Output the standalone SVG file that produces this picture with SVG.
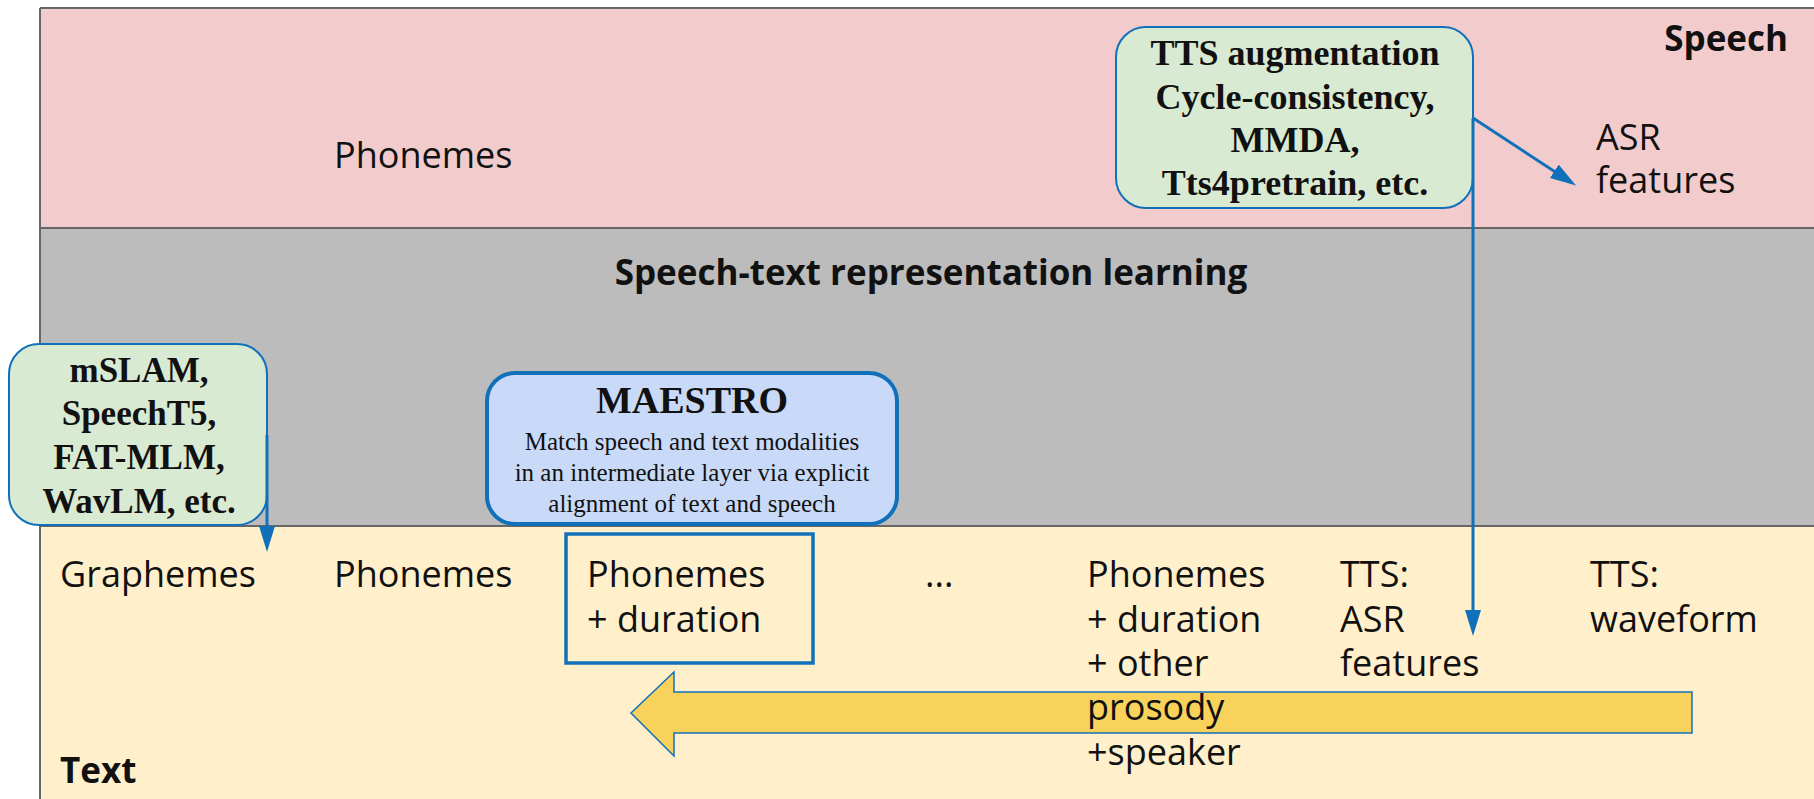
<svg xmlns="http://www.w3.org/2000/svg" width="1814" height="799" viewBox="0 0 1814 799">
  <style>
    .lbl { font-family: "Open Sans", "Liberation Sans", sans-serif; font-size: 36px; fill: #111; }
    .hdr { font-family: "Open Sans", "Liberation Sans", sans-serif; font-size: 35px; font-weight: bold; fill: #111; }
    .node { font-family: "Liberation Serif", "DejaVu Serif", serif; font-weight: bold; fill: #111; text-anchor: middle; }
    .note { font-family: "Liberation Serif", "DejaVu Serif", serif; font-size: 25px; fill: #111; text-anchor: middle; }
    .band-line { stroke: #666; stroke-width: 2; fill: none; }
    .conn { stroke: #1170ba; stroke-width: 3; fill: none; }
  </style>
  <defs>
    <marker id="head" viewBox="0 0 26 16" refX="14" refY="8" markerWidth="26" markerHeight="16" markerUnits="userSpaceOnUse" orient="auto">
      <path d="M0,0 L26,8 L0,16 Z" fill="#1170ba"/>
    </marker>
  </defs>

  <!-- background bands -->
  <g id="bands">
    <rect x="40" y="8" width="1774" height="220" fill="#f2cccc"/>
    <rect x="40" y="228" width="1774" height="298" fill="#bcbcbc"/>
    <rect x="40" y="526" width="1774" height="273" fill="#fff0cb"/>
    <path class="band-line" d="M40,8 H1814 M40,8 V799 M40,228 H1814 M40,526 H1814"/>
  </g>

  <!-- band titles and plain labels -->
  <g id="labels">
    <text class="hdr" x="1788" y="51" text-anchor="end" font-size="36">Speech</text>
    <text class="hdr" x="931" y="285" text-anchor="middle">Speech-text representation learning</text>
    <text class="hdr" x="60" y="783">Text</text>

    <text class="lbl" x="334" y="168">Phonemes</text>
    <text class="lbl" x="1596" y="150">ASR</text>
    <text class="lbl" x="1596" y="193">features</text>

    <text class="lbl" x="60" y="587">Graphemes</text>
    <text class="lbl" x="334" y="587">Phonemes</text>
    <text class="lbl" x="925" y="587">...</text>

    <text class="lbl" x="1087" y="587">Phonemes</text>
    <text class="lbl" x="1087" y="632">+ duration</text>
    <text class="lbl" x="1087" y="676">+ other</text>
    <text class="lbl" x="1087" y="765">+speaker</text>

    <text class="lbl" x="1340" y="587">TTS:</text>
    <text class="lbl" x="1340" y="632">ASR</text>
    <text class="lbl" x="1340" y="676">features</text>

    <text class="lbl" x="1590" y="587">TTS:</text>
    <text class="lbl" x="1590" y="632">waveform</text>
  </g>

  <!-- wide arrow pointing back toward the simpler text representations -->
  <g id="direction-arrow">
    <polygon points="631,713 674,672 674,692 1692,692 1692,733 674,733 674,756" fill="#f9d25c" stroke="#1170ba" stroke-width="1.5"/>
    <text class="lbl" x="1087" y="720">prosody</text>
  </g>

  <!-- nodes -->
  <g id="tts-augmentation">
    <rect x="1116" y="27" width="357" height="181" rx="30" fill="#d9ead3" stroke="#1170ba" stroke-width="2"/>
    <text class="node" font-size="36" x="1295" y="65">TTS augmentation</text>
    <text class="node" font-size="36" x="1295" y="109">Cycle-consistency,</text>
    <text class="node" font-size="36" x="1295" y="152">MMDA,</text>
    <text class="node" font-size="36" x="1295" y="195">Tts4pretrain, etc.</text>
  </g>

  <g id="mslam">
    <rect x="9" y="344" width="258" height="181" rx="30" fill="#d9ead3" stroke="#1170ba" stroke-width="2"/>
    <text class="node" font-size="35" x="139" y="382">mSLAM,</text>
    <text class="node" font-size="35" x="139" y="425">SpeechT5,</text>
    <text class="node" font-size="35" x="139" y="469">FAT-MLM,</text>
    <text class="node" font-size="35" x="139" y="513">WavLM, etc.</text>
  </g>

  <g id="maestro">
    <rect x="487" y="373" width="410" height="151" rx="28" fill="#c9daf8" stroke="#1170ba" stroke-width="4"/>
    <text class="node" font-size="38" x="692" y="413">MAESTRO</text>
    <text class="note" x="692" y="450">Match speech and text modalities</text>
    <text class="note" x="692" y="481">in an intermediate layer via explicit</text>
    <text class="note" x="692" y="512">alignment of text and speech</text>
  </g>

  <g id="phonemes-duration">
    <rect x="566" y="534" width="247" height="129" fill="none" stroke="#1170ba" stroke-width="3.5"/>
    <text class="lbl" x="587" y="587">Phonemes</text>
    <text class="lbl" x="587" y="632">+ duration</text>
  </g>

  <!-- connectors -->
  <g id="connectors">
    <line class="conn" x1="1473" y1="118" x2="1566" y2="179" marker-end="url(#head)"/>
    <line class="conn" x1="1473" y1="118" x2="1473" y2="624" marker-end="url(#head)"/>
    <line class="conn" x1="267" y1="435" x2="267" y2="540" marker-end="url(#head)"/>
  </g>
</svg>
